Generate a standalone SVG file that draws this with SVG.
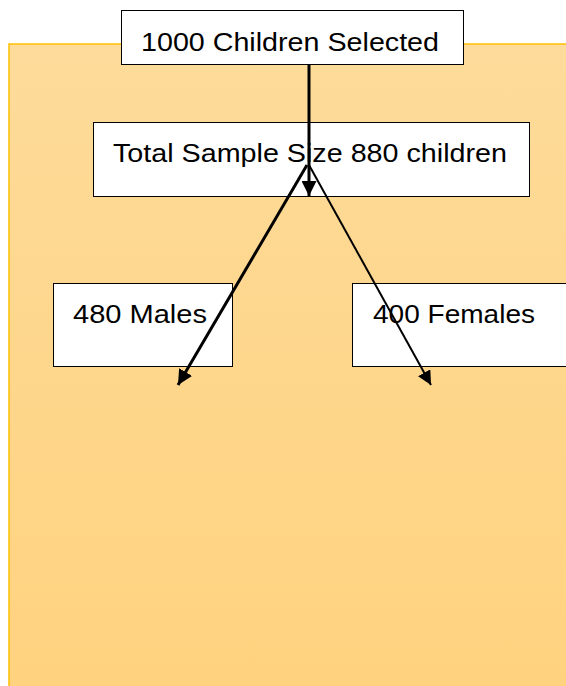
<svg xmlns="http://www.w3.org/2000/svg" width="566" height="686" viewBox="0 0 566 686">
<defs>
<linearGradient id="bg" x1="0" y1="0" x2="0" y2="1">
<stop offset="0" stop-color="#FDDB9A"/>
<stop offset="1" stop-color="#FFD27E"/>
</linearGradient>
<marker id="ah" viewBox="0 0 10 10" refX="10" refY="5" markerWidth="5" markerHeight="5" orient="auto" markerUnits="strokeWidth">
<path d="M0,0 L10,5 L0,10 z" fill="#000"/>
</marker>
<marker id="ah2" viewBox="0 0 10 10" refX="10" refY="5" markerWidth="7" markerHeight="7" orient="auto" markerUnits="strokeWidth">
<path d="M0,0 L10,5 L0,10 z" fill="#000"/>
</marker>
</defs>
<style>
.box{fill:#fff;stroke:#000;stroke-width:1}
.t{font-family:"Liberation Sans",Arial,sans-serif;font-size:26px;fill:#000}
</style>
<rect x="9" y="44" width="570" height="660" fill="url(#bg)" stroke="#FFC000" stroke-width="1.5"/>
<g id="n1"><rect class="box" x="121.5" y="10.5" width="342" height="54"/><text class="t" x="141" y="51" textLength="298" lengthAdjust="spacingAndGlyphs">1000 Children Selected</text></g>
<g id="n2"><rect class="box" x="93.5" y="122.5" width="436" height="74"/><text class="t" x="113" y="162" textLength="394" lengthAdjust="spacingAndGlyphs">Total Sample Size 880 children</text></g>
<g id="n3"><rect class="box" x="53.5" y="283.5" width="179" height="83"/><text class="t" x="73" y="323" textLength="134" lengthAdjust="spacingAndGlyphs">480 Males</text></g>
<g id="n4"><rect class="box" x="352.5" y="283.5" width="220" height="83"/><text class="t" x="373" y="323" textLength="162" lengthAdjust="spacingAndGlyphs">400 Females</text></g>
<g id="connectors" stroke="#000" fill="none">
<line x1="309" y1="64" x2="309" y2="196" stroke-width="3" marker-end="url(#ah)"/>
<line x1="307" y1="165" x2="178" y2="385" stroke-width="3" marker-end="url(#ah)"/>
<line x1="309" y1="165" x2="431" y2="385" stroke-width="2" marker-end="url(#ah2)"/>
</g>
</svg>
